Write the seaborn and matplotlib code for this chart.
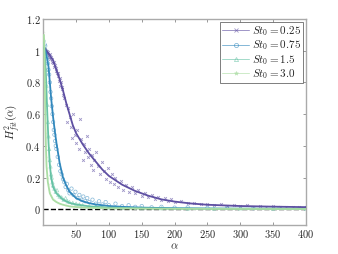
import numpy as np
import pandas as pd
import matplotlib
matplotlib.use("Agg")
import matplotlib.pyplot as plt
from matplotlib.lines import Line2D
import seaborn as sns

# Fit-Kurven
fit_a_025 = [1, 5, 10, 15, 20, 25, 30, 35, 40, 45, 50, 60, 70, 80, 90, 100, 120, 140, 160, 180, 200, 225, 250, 300, 350, 400]
fit_h_025 = [1.02, 1.0, 0.97, 0.94, 0.88, 0.82, 0.75, 0.67, 0.6, 0.53, 0.48, 0.41, 0.35, 0.3, 0.25, 0.21, 0.155, 0.115, 0.085, 0.062, 0.048, 0.036, 0.028, 0.02, 0.016, 0.013]

fit_a_075 = [1, 3, 5, 8, 10, 12, 15, 18, 20, 25, 30, 35, 40, 50, 60, 70, 80, 100, 125, 150, 200, 250, 300, 400]
fit_h_075 = [1.02, 1.0, 0.97, 0.9, 0.8, 0.7, 0.58, 0.48, 0.42, 0.29, 0.2, 0.15, 0.11, 0.07, 0.05, 0.038, 0.03, 0.02, 0.014, 0.01, 0.006, 0.004, 0.003, 0.002]

fit_a_15 = [1, 2, 4, 6, 8, 10, 12, 15, 20, 30, 40, 50, 70, 100, 150, 200, 300, 400]
fit_h_15 = [1.05, 1.0, 0.85, 0.62, 0.42, 0.28, 0.2, 0.14, 0.1, 0.06, 0.04, 0.03, 0.018, 0.01, 0.006, 0.004, 0.003, 0.002]

fit_a_30 = [1, 2, 3, 4, 5, 7, 10, 15, 20, 25, 30, 40, 60, 100, 200, 400]
fit_h_30 = [1.1, 0.9, 0.62, 0.4, 0.27, 0.17, 0.1, 0.06, 0.045, 0.035, 0.028, 0.018, 0.01, 0.005, 0.002, 0.001]

# Messpunkte
pts_a_025 = [2, 3, 4, 5, 6, 7, 8, 9, 10, 11, 12, 13, 14, 15, 16, 17, 18, 19, 20, 21, 22, 23, 24, 25, 26, 27, 28, 29, 30,
             32, 34, 36, 38, 40, 42, 44, 46, 48, 50, 52, 54, 56, 58, 60, 62, 64, 66, 68, 70, 72, 74, 76, 78, 80,
             83, 86, 89, 92, 95, 98, 101, 104, 107, 110, 114, 118, 122, 126, 130, 135, 140, 145, 150, 155, 160,
             165, 170, 175, 180, 185, 190, 195, 200, 210, 220, 230, 240, 250, 260, 270, 280, 290, 300, 310, 320,
             330, 340, 350, 360, 370, 380, 390, 400]
pts_h_025 = [1.01, 1.0, 0.99, 1.0, 0.98, 0.99, 0.97, 0.96, 0.98, 0.95, 0.96, 0.93, 0.95, 0.92, 0.93, 0.9, 0.91, 0.87, 0.89, 0.86, 0.84, 0.86, 0.81, 0.83, 0.78, 0.8, 0.76, 0.77, 0.72,
             0.7, 0.66, 0.55, 0.64, 0.58, 0.52, 0.45, 0.6, 0.47, 0.42, 0.5, 0.38, 0.57, 0.44, 0.31, 0.41, 0.36, 0.46, 0.33, 0.38, 0.28, 0.34, 0.25, 0.31, 0.36,
             0.27, 0.22, 0.3, 0.24, 0.19, 0.26, 0.17, 0.22, 0.16, 0.2, 0.14, 0.18, 0.12, 0.15, 0.11, 0.14, 0.1, 0.12, 0.085, 0.1, 0.075,
             0.09, 0.065, 0.08, 0.055, 0.07, 0.05, 0.062, 0.045, 0.05, 0.036, 0.042, 0.03, 0.035, 0.026, 0.03, 0.022, 0.027, 0.02, 0.024, 0.017,
             0.021, 0.016, 0.019, 0.014, 0.017, 0.013, 0.015, 0.012]

pts_a_075 = [2, 3, 4, 5, 6, 7, 8, 9, 10, 11, 12, 13, 14, 15, 16, 17, 18, 19, 20, 22, 24, 26, 28, 30, 32, 34, 36, 38, 40,
             43, 46, 49, 52, 55, 58, 61, 64, 67, 70, 75, 80, 85, 90, 95, 100, 110, 120, 130, 140, 150, 165, 180,
             200, 220, 250, 280, 320, 360, 400]
pts_h_075 = [1.04, 1.03, 1.0, 0.98, 0.95, 0.92, 0.88, 0.85, 0.8, 0.74, 0.7, 0.65, 0.6, 0.55, 0.5, 0.47, 0.43, 0.4, 0.38, 0.33, 0.28, 0.24, 0.22, 0.19, 0.17, 0.14, 0.16, 0.12, 0.1,
             0.13, 0.09, 0.11, 0.07, 0.09, 0.06, 0.08, 0.05, 0.07, 0.045, 0.06, 0.035, 0.05, 0.03, 0.045, 0.025, 0.035, 0.02, 0.025, 0.015, 0.02, 0.012, 0.015,
             0.01, 0.012, 0.008, 0.01, 0.006, 0.008, 0.005]

pts_a_15 = [1, 2, 3, 4, 5, 6, 7, 8, 9, 10, 11, 12, 13, 14, 15, 17, 19, 21, 23, 25, 28, 31, 34, 37, 40, 45, 50, 55, 60,
            70, 80, 90, 100, 120, 150, 180, 220, 260, 300, 350, 400]
pts_h_15 = [1.07, 1.02, 0.97, 0.88, 0.78, 0.66, 0.55, 0.46, 0.38, 0.31, 0.27, 0.22, 0.2, 0.17, 0.15, 0.13, 0.11, 0.12, 0.09, 0.08, 0.075, 0.06, 0.07, 0.05, 0.045, 0.04, 0.035, 0.03, 0.025,
            0.02, 0.018, 0.014, 0.012, 0.009, 0.007, 0.006, 0.004, 0.004, 0.003, 0.003, 0.002]

pts_a_30 = [1, 1.5, 2, 2.5, 3, 3.5, 4, 5, 6, 7, 8, 9, 10, 12, 14, 16, 18, 20, 23, 26, 30, 35, 40, 50, 60, 75, 90, 110,
            140, 180, 230, 300, 400]
pts_h_30 = [1.12, 1.05, 0.95, 0.85, 0.7, 0.6, 0.48, 0.33, 0.26, 0.2, 0.16, 0.13, 0.11, 0.09, 0.075, 0.065, 0.055, 0.05, 0.04, 0.035, 0.03, 0.025, 0.02, 0.015, 0.012, 0.01, 0.008, 0.006,
            0.005, 0.004, 0.003, 0.002, 0.001]

labels = ["0.25", "0.75", "1.5", "3.0"]
colors = ["#5e4fa2", "#3288bd", "#66c2a5", "#abdda4"]
markers = ["x", "o", "^", "*"]

sns.set_style("ticks")
plt.rcParams["mathtext.fontset"] = "cm"
plt.rcParams["font.family"] = ["DejaVu Serif"]

fig = plt.figure(figsize=(3.38, 2.54), dpi=100)
ax = fig.add_axes([0.128, 0.114, 0.777, 0.811])

ax.plot([0, 400], [0, 0], ls="--", color="black", lw=1, zorder=1)

fits = [(fit_a_025, fit_h_025), (fit_a_075, fit_h_075), (fit_a_15, fit_h_15), (fit_a_30, fit_h_30)]
pts = [(pts_a_025, pts_h_025), (pts_a_075, pts_h_075), (pts_a_15, pts_h_15), (pts_a_30, pts_h_30)]

for i in range(4):
    dp = pd.DataFrame({"a": pts[i][0], "h": pts[i][1]})
    if markers[i] in "o^":
        sns.scatterplot(data=dp, x="a", y="h", ax=ax, marker=markers[i], s=6, facecolor="none",
                        edgecolor=colors[i], linewidth=0.5, alpha=0.6, zorder=2)
    else:
        sns.scatterplot(data=dp, x="a", y="h", ax=ax, marker=markers[i], s=4, color=colors[i],
                        linewidth=0.6, alpha=0.6, zorder=2)
    df = pd.DataFrame({"a": fits[i][0], "h": fits[i][1]})
    sns.lineplot(data=df, x="a", y="h", ax=ax, color=colors[i], lw=1.3, zorder=3)

handles = [Line2D([0], [0], color=colors[i], lw=0.7, alpha=0.6, marker=markers[i], markersize=3,
                  markeredgewidth=0.6,
                  markerfacecolor="none" if markers[i] in "o^" else colors[i],
                  label=r"$St_0 = %s$" % labels[i]) for i in range(4)]
leg = ax.legend(handles=handles, loc="upper right", fontsize=8, frameon=True, fancybox=False,
                borderpad=0.2, labelspacing=0.05, handlelength=2.4, handletextpad=0.25,
                borderaxespad=0.25)
leg.get_frame().set_edgecolor("#444444")
leg.get_frame().set_linewidth(0.6)

ax.set_xlim(0, 400)
ax.set_ylim(-0.1, 1.2)
xt = [50, 100, 150, 200, 250, 300, 350, 400]
yt = [0, 0.2, 0.4, 0.6, 0.8, 1, 1.2]
ax.set_xticks(xt)
ax.set_xticklabels([r"$%d$" % v for v in xt], fontsize=7.5)
ax.set_yticks(yt)
ax.set_yticklabels([r"$%g$" % v for v in yt], fontsize=7.5)
ax.tick_params(direction="in", length=2.5, width=0.6, color="#888888", top=True, right=True, pad=2)
for s in ax.spines.values():
    s.set_color("#aaaaaa")
    s.set_linewidth(1.0)

ax.set_xlabel(r"$\alpha$", fontsize=8, labelpad=1)
ax.set_ylabel(r"$H^2_{fit}(\alpha)$", fontsize=8, labelpad=2)

fig.savefig("out.png", dpi=100)
